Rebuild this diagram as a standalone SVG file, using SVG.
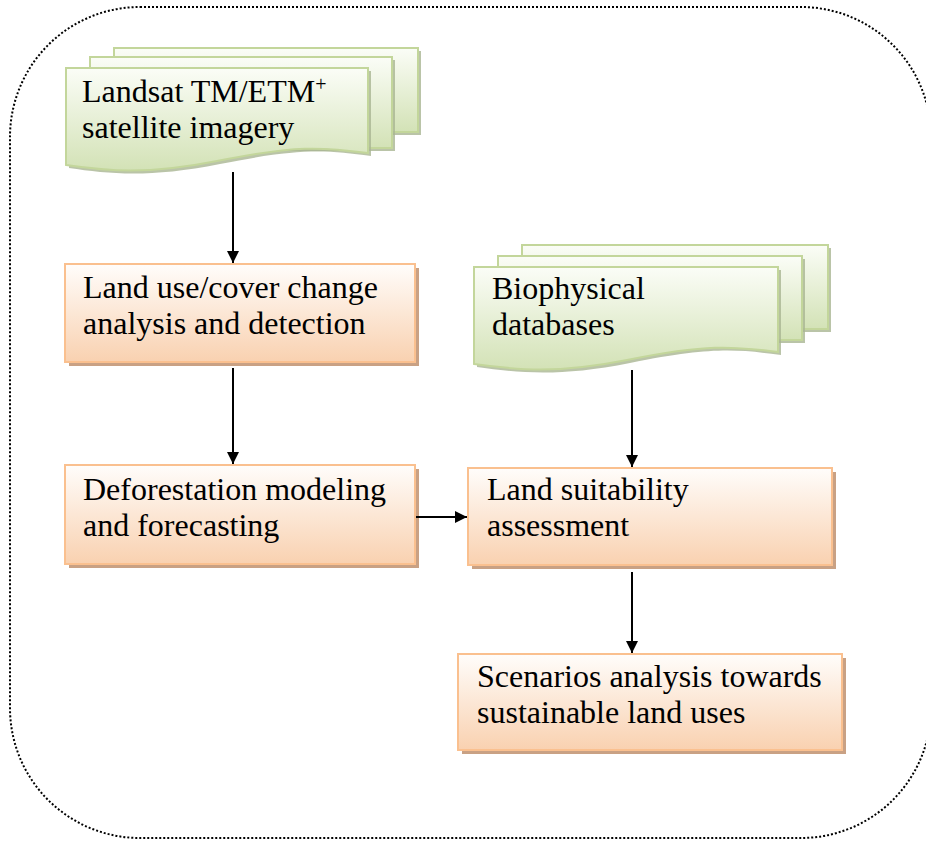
<svg xmlns="http://www.w3.org/2000/svg" width="926" height="841" viewBox="0 0 926 841">
<defs>
<linearGradient id="gGreen" x1="0" y1="0" x2="0" y2="1">
<stop offset="0" stop-color="#fbfdf7"/>
<stop offset="1" stop-color="#d3e2b6"/>
</linearGradient>
<linearGradient id="gOrange" x1="0" y1="0" x2="0" y2="1">
<stop offset="0" stop-color="#fffdfb"/>
<stop offset="1" stop-color="#f9d1b0"/>
</linearGradient>
<marker id="arr" viewBox="0 0 10 10" refX="10" refY="5" markerWidth="6" markerHeight="6" markerUnits="strokeWidth" orient="auto">
<path d="M0,0 L10,5 L0,10 Z" fill="#000"/>
</marker>
</defs>
<style>
.doc{fill:url(#gGreen);stroke:#c3d69b;stroke-width:2}
.docsh{fill:#a9b592;opacity:0.8}
.box{fill:url(#gOrange);stroke:#fac08f;stroke-width:2}
.boxsh{fill:#c9a184}
text{font-family:'Liberation Serif',serif;font-size:32px;fill:#000}
.sup{font-size:20px}
.c{stroke:#000;stroke-width:2;fill:none;marker-end:url(#arr)}
</style>
<rect x="10" y="7" width="921" height="831" rx="130" ry="130" fill="none" stroke="#000" stroke-width="2" stroke-dasharray="2,2"/>

<g id="landsat">
<rect class="docsh" x="117" y="51" width="304" height="84"/>
<rect class="doc" x="114" y="48" width="304" height="84"/>
<rect class="docsh" x="93" y="60" width="302" height="91"/>
<rect class="doc" x="90" y="57" width="302" height="91"/>
<path class="docsh" d="M69,71 H371 V156 C325,150 300,148 220,164 C150,178 110,174 69,168 Z"/>
<path class="doc" d="M66,68 H368 V153 C322,147 297,145 217,161 C147,175 107,171 66,165 Z"/>
<text x="82" y="102">Landsat TM/ETM<tspan class="sup" dy="-11">+</tspan></text>
<text x="82" y="138">satellite imagery</text>
</g>

<g id="biophysical">
<rect class="docsh" x="525" y="248" width="306" height="84"/>
<rect class="doc" x="522" y="245" width="306" height="84"/>
<rect class="docsh" x="501" y="259" width="304" height="84"/>
<rect class="doc" x="498" y="256" width="304" height="84"/>
<path class="docsh" d="M477,270 H781 V355 C735,349 710,347 630,363 C560,377 520,373 477,367 Z"/>
<path class="doc" d="M474,267 H778 V352 C732,346 707,344 627,360 C557,374 517,370 474,364 Z"/>
<text x="492" y="299">Biophysical</text>
<text x="492" y="335">databases</text>
</g>

<g id="landuse">
<rect class="boxsh" x="69" y="268" width="350" height="98"/>
<rect class="box" x="65" y="264" width="350" height="98"/>
<text x="83" y="298">Land use/cover change</text>
<text x="83" y="334">analysis and detection</text>
</g>

<g id="deforestation">
<rect class="boxsh" x="69" y="469" width="350" height="99"/>
<rect class="box" x="65" y="465" width="350" height="99"/>
<text x="83" y="500">Deforestation modeling</text>
<text x="83" y="536">and forecasting</text>
</g>

<g id="suitability">
<rect class="boxsh" x="472" y="472" width="364" height="97"/>
<rect class="box" x="468" y="468" width="364" height="97"/>
<text x="487" y="500">Land suitability</text>
<text x="487" y="536">assessment</text>
</g>

<g id="scenarios">
<rect class="boxsh" x="462" y="658" width="384" height="96"/>
<rect class="box" x="458" y="654" width="384" height="96"/>
<text x="477" y="687">Scenarios analysis towards</text>
<text x="477" y="723">sustainable land uses</text>
</g>

<g id="connectors">
<line class="c" x1="233" y1="172" x2="233" y2="263"/>
<line class="c" x1="233" y1="368" x2="233" y2="464"/>
<line class="c" x1="632" y1="370" x2="632" y2="467"/>
<line class="c" x1="416" y1="517" x2="467" y2="517"/>
<line class="c" x1="632" y1="572" x2="632" y2="653"/>
</g>
</svg>
